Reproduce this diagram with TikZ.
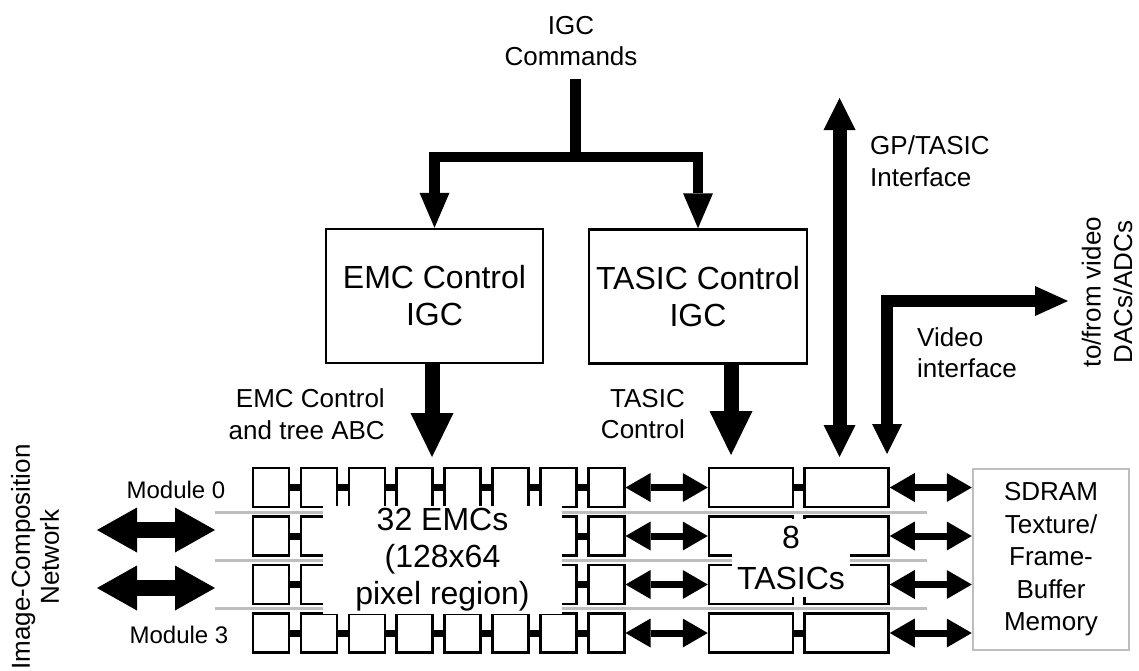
\documentclass[tikz,border=0pt]{standalone}
\usepackage{fontspec}
\setmainfont{Liberation Sans}
\usetikzlibrary{arrows.meta}
\definecolor{lg}{RGB}{190,190,190}
\tikzset{
  box/.style={draw, line width=2.5pt, inner sep=0pt},
  ctl/.style={box, minimum width=217pt, minimum height=134pt, align=center, font=\fontsize{32}{37}\selectfont},
  emc/.style={box, minimum width=36pt, minimum height=39pt},
  tas/.style={box, minimum width=84pt, minimum height=39pt},
  stub/.style={line width=7pt},
  gline/.style={draw=lg, line width=3pt},
  lbl/.style={inner sep=0pt, font=\fontsize{26}{31.5}\selectfont},
  cover/.style={fill=white, inner sep=0pt, align=center},
  trunk/.style={line width=10.5pt},
  tree/.style={line width=10.5pt, line join=miter, arrows={Triangle[length=35pt,width=30pt,line width=0pt]-Triangle[length=35pt,width=30pt,line width=0pt]}},
  fat/.style={line width=15pt, -{Triangle[length=44pt,width=43pt,line width=0pt]}},
  gpa/.style={line width=14pt, {Triangle[length=32pt,width=32pt,line width=0pt]}-{Triangle[length=32pt,width=32pt,line width=0pt]}},
  vid/.style={line width=11.5pt, line join=miter, {Triangle[length=33pt,width=30pt,line width=0pt]}-{Triangle[length=30pt,width=30pt,line width=0pt]}},
  icn/.style={line width=16pt, {Triangle[length=40pt,width=45pt,line width=0pt]}-{Triangle[length=40pt,width=45pt,line width=0pt]}},
  rowa/.style={line width=7pt, {Triangle[length=25pt,width=29pt,line width=0pt]}-{Triangle[length=25pt,width=29pt,line width=0pt]}},
}
\begin{document}
\begin{tikzpicture}[x=1pt, y=-1pt]
\useasboundingbox (0,0) rectangle (1139,670);
\fill[white] (0,0) rectangle (1139,670);

% gray separators
\foreach \yy in {512,560,608} \draw[gline] (215,\yy) -- (927,\yy);

% EMC and TASIC rows
\foreach \r/\yy in {0/487.5,1/536,2/584.5,3/633} {
  \foreach \i in {0,...,7} \node[emc] (e\r-\i) at ({271+47.9*\i},\yy) {};
  \foreach \i/\j in {0/1,1/2,2/3,3/4,4/5,5/6,6/7} \draw[stub] (e\r-\i.east) -- (e\r-\j.west);
  \node[tas] (t1-\r) at (751,\yy) {};
  \node[tas] (t2-\r) at (846.5,\yy) {};
  \draw[stub] (t1-\r.east) -- (t2-\r.west);
}

% SDRAM
\node[box, draw=lg, minimum width=156pt, minimum height=181pt, align=center,
      font=\fontsize{26}{32.5}\selectfont] (sdram) at (1051,559.5)
      {SDRAM\\Texture/\\Frame-\\Buffer\\Memory};

% covering labels
\node[cover, minimum width=239pt, minimum height=108pt, font=\fontsize{32}{37}\selectfont]
  (emcs) at (442.5,560) {32 EMCs\\(128x64\\pixel region)};
\node[cover, minimum width=118pt, minimum height=78pt, font=\fontsize{32}{41}\selectfont]
  (tasics) at (791,558) {8\\TASICs};

% row arrows
\foreach \r in {0,1,2,3} {
  \draw[rowa] (e\r-7.east) -- (t1-\r.west);
  \draw[rowa] (t2-\r.east) -- (t2-\r.east -| sdram.west);
}

% control boxes
\node[ctl] (emcctl) at (434.5,296) {EMC Control\\IGC};
\node[ctl, minimum width=218pt] (tasicctl) at (698,296.5) {TASIC Control\\IGC};

% IGC commands tree
\node[lbl, align=center] (igc) at (571,41) {IGC\\Commands};
\coordinate (cmdbot) at (575.5,79);
\coordinate (split) at (575.5,157);
\draw[trunk] (cmdbot) -- (split);
\draw[tree] (emcctl.north) |- (split) -| (tasicctl.north);

% control arrows down
\coordinate (emcin) at (432,457);
\coordinate (tasin) at (731,455);
\draw[fat] (emcctl.south -| emcin) -- (emcin);
\draw[fat] (tasicctl.south -| tasin) -- (tasin);

% GP/TASIC interface
\coordinate (gptop) at (839.5,98);
\coordinate (gpbot) at (839.5,457);
\draw[gpa] (gptop) -- (gpbot);

% video interface
\coordinate (vidend) at (1068,301);
\coordinate (vidbot) at (887,454);
\draw[vid] (vidend) -| (vidbot);

% image composition network arrows
\coordinate (ica) at (97,530);
\coordinate (icb) at (215,530);
\coordinate (icc) at (97,588);
\coordinate (icd) at (215,588);
\draw[icn] (ica) -- (icb);
\draw[icn] (icc) -- (icd);

% labels
\node[lbl, align=left, anchor=west] (gplbl) at (870,161) {GP/TASIC\\Interface};
\node[lbl, align=left, anchor=west] (vidlbl) at (917,352.5) {Video\\interface};
\node[lbl, align=center, rotate=90] (dac) at (1107,292) {to/from video\\DACs/ADCs};
\node[lbl, align=right, anchor=east] (emclbl) at (385,414) {EMC Control\\and tree ABC};
\node[lbl, align=right, anchor=east] (taslbl) at (685,414) {TASIC\\Control};
\node[lbl, font=\fontsize{24}{28}\selectfont] (m0) at (176,490) {Module 0};
\node[lbl, font=\fontsize{24}{28}\selectfont] (m3) at (179,635) {Module 3};
\node[lbl, align=center, rotate=90, font=\fontsize{26}{29}\selectfont] (icnlbl) at (35,557) {Image-Composition\\Network};
\end{tikzpicture}
\end{document}
